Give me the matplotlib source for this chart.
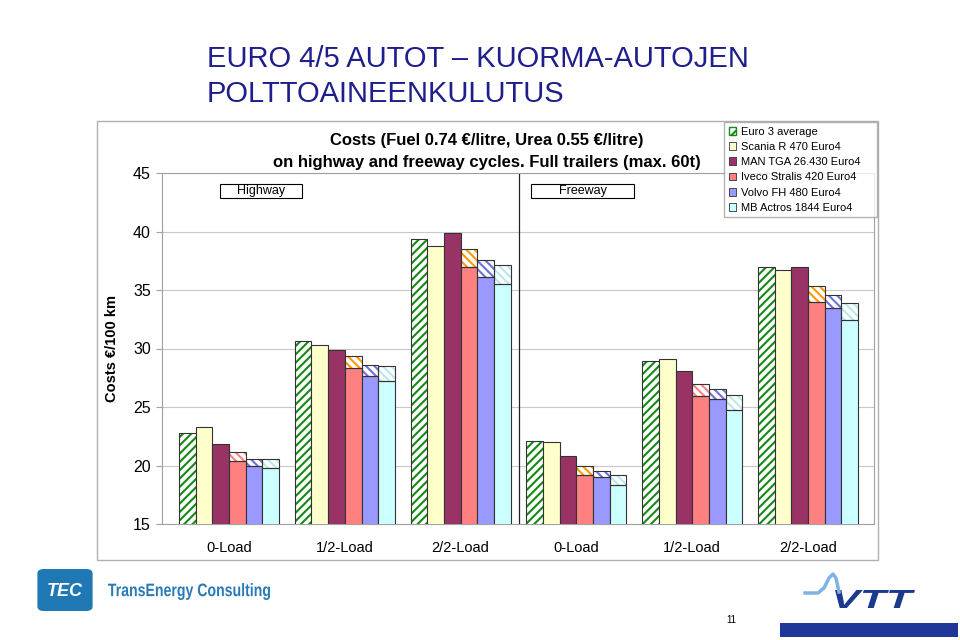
import matplotlib
matplotlib.use('Agg')
import matplotlib.pyplot as plt
import numpy as np
from matplotlib.patches import Patch, Rectangle, FancyBboxPatch, PathPatch
from matplotlib.textpath import TextPath
from matplotlib.font_manager import FontProperties
from matplotlib.transforms import Affine2D

plt.rcParams['font.family'] = ['Liberation Sans', 'DejaVu Sans']
plt.rcParams['hatch.linewidth'] = 1.5

# values (Costs EUR/100 km)
categories = ['0-Load', '1/2-Load', '2/2-Load', '0-Load', '1/2-Load', '2/2-Load']
labels = ['Euro 3 average', 'Scania R 470 Euro4', 'MAN TGA 26.430 Euro4',
          'Iveco Stralis 420 Euro4', 'Volvo FH 480 Euro4', 'MB Actros 1844 Euro4']
euro3 = [22.75, 30.6, 39.4, 22.1, 28.95, 36.95]
scania = [23.25, 30.3, 38.8, 22.0, 29.1, 36.75]
man = [21.85, 29.85, 39.9, 20.8, 28.1, 36.95]
iveco_fuel = [20.35, 28.3, 37.0, 19.2, 25.95, 33.95]
iveco_urea = [0.8, 1.05, 1.5, 0.75, 1.0, 1.35]
volvo_fuel = [19.95, 27.65, 36.15, 19.0, 25.65, 33.45]
volvo_urea = [0.6, 0.95, 1.4, 0.5, 0.85, 1.15]
mb_fuel = [19.75, 27.25, 35.55, 18.3, 24.75, 32.45]
mb_urea = [0.8, 1.25, 1.55, 0.9, 1.3, 1.45]
yticks = [15, 20, 25, 30, 35, 40, 45]

green = '#138a13'
cols = ['white', '#ffffcc', '#993366', '#ff8080', '#9999ff', '#ccffff']
iveco_hatch = ['#ff8080', '#ff9900', '#ff9900', '#ff9900', '#ff8080', '#ff9900']
volvo_hatch = '#7070dd'
mb_hatch = '#b8eaea'
edge = '#333333'
fwd = '////'
back = '\\\\\\\\'

W, H = 960, 640
fig = plt.figure(figsize=(9.6, 6.4), dpi=100)
ax = fig.add_axes([162/W, 1-524/H, (874-162)/W, (524-173)/H])

x = np.arange(len(categories))
w = 0.144


def hbar(xx, h, bottom, face, hcol, hatch):
    ax.bar(xx, h, w, bottom=bottom, color=face, edgecolor=hcol, hatch=hatch, linewidth=0, zorder=2)
    ax.bar(xx, h, w, bottom=bottom, fill=False, edgecolor=edge, linewidth=0.8, zorder=3)


off = (np.arange(6) - 2.5) * w
hbar(x + off[0], euro3, 0, 'white', green, fwd)
ax.bar(x + off[1], scania, w, color=cols[1], edgecolor=edge, linewidth=0.8, zorder=3)
ax.bar(x + off[2], man, w, color=cols[2], edgecolor=edge, linewidth=0.8, zorder=3)
ax.bar(x + off[3], iveco_fuel, w, color=cols[3], edgecolor=edge, linewidth=0.8, zorder=3)
for i in range(len(x)):
    hbar(x[i] + off[3], iveco_urea[i], iveco_fuel[i], 'white', iveco_hatch[i], back)
ax.bar(x + off[4], volvo_fuel, w, color=cols[4], edgecolor=edge, linewidth=0.8, zorder=3)
hbar(x + off[4], volvo_urea, volvo_fuel, 'white', volvo_hatch, back)
ax.bar(x + off[5], mb_fuel, w, color=cols[5], edgecolor=edge, linewidth=0.8, zorder=3)
hbar(x + off[5], mb_urea, mb_fuel, 'white', mb_hatch, back)

ax.set_xlim(-0.579, 5.57)
ax.set_ylim(15, 45)
ax.set_yticks(yticks)
ax.set_xticks(x)
ax.set_xticklabels(categories)
ax.yaxis.grid(True, color='#c8c8c8', lw=0.8)
ax.set_axisbelow(True)
for s in ax.spines.values():
    s.set_color('#a0a0a0')
ax.tick_params(axis='y', length=4, color='#a0a0a0', labelsize=11.5, pad=4)
ax.tick_params(axis='x', length=0, labelsize=10.5, pad=12)
ax.set_ylabel('Costs €/100 km', fontsize=10.5, fontweight='bold', labelpad=10)
ax.axvline(2.5, color='#222222', lw=0.9, zorder=1)

# legend
handles = [Patch(facecolor='white', edgecolor=green, hatch='///')]
handles += [Patch(facecolor=c, edgecolor=edge, lw=0.6) for c in cols[1:]]
fig.legend(handles, labels, loc='upper left',
           bbox_to_anchor=(724/W, 1-218/H, (877-724)/W, (218-122)/H),
           bbox_transform=fig.transFigure, mode='expand', frameon=True, fancybox=False,
           edgecolor='#a0a0a0', fontsize=8, handlelength=0.7, handleheight=0.7,
           handletextpad=0.4, labelspacing=0.47, borderpad=0.42, borderaxespad=0)

# outer chart box
fig.add_artist(Rectangle((97/W, 1-560/H), (878-97)/W, (560-121)/H, transform=fig.transFigure,
                         fill=False, ec='#b0b0b0', lw=1, zorder=0))

# titles
navy = '#1e1e8c'
fig.text(207/W, 1-67/H, 'EURO 4/5 AUTOT – KUORMA-AUTOJEN', fontsize=21, color=navy, va='baseline')
fig.text(207/W, 1-102/H, 'POLTTOAINEENKULUTUS', fontsize=21, color=navy, va='baseline')
fig.text(487/W, 1-141/H, 'Costs (Fuel 0.74 €/litre, Urea 0.55 €/litre)', fontsize=12,
         fontweight='bold', ha='center', va='center')
fig.text(487/W, 1-162/H, 'on highway and freeway cycles. Full trailers (max. 60t)', fontsize=12,
         fontweight='bold', ha='center', va='center')

# Highway / Freeway boxes
for x0, x1, t in [(220, 302, 'Highway'), (531, 634, 'Freeway')]:
    fig.add_artist(Rectangle((x0/W, 1-198/H), (x1-x0)/W, 14/H, transform=fig.transFigure,
                             fill=False, ec='black', lw=0.8))
    fig.text((x0+x1)/2/W, 1-191/H, t, fontsize=9, ha='center', va='center')

# TEC logo
fig.add_artist(FancyBboxPatch((40/W, 1-609/H), 50/W, 38/H,
                              boxstyle='round,pad=0.002,rounding_size=0.006',
                              transform=fig.transFigure, color='#1f78b4'))
fig.text(65/W, 1-591/H, 'TEC', fontsize=13, color='white', fontweight='bold', style='italic',
         ha='center', va='center')
tp2 = TextPath((0, 0), 'TransEnergy Consulting', size=1,
               prop=FontProperties(family='Liberation Sans', weight='bold'))
e2 = tp2.get_extents()
tr2 = Affine2D().translate(-e2.x0, -e2.y0).scale((162/W)/e2.width, (17/H)/e2.height)
tr2 = tr2.translate(108/W, 1-600/H) + fig.transFigure
fig.add_artist(PathPatch(tp2, transform=tr2, color='#2a7ab8', lw=0))

# VTT logo
tp = TextPath((0, 0), 'VTT', size=1, prop=FontProperties(family='Liberation Sans', weight='bold', style='italic'))
ext = tp.get_extents()
sx = (80/W)/ext.width
sy = (18/H)/ext.height
tr = Affine2D().translate(-ext.x0, -ext.y0).scale(sx, sy).translate(835/W, 1-608/H) + fig.transFigure
fig.add_artist(PathPatch(tp, transform=tr, color='#1b3a8c', lw=0))
wave_x = np.array([805, 818, 824, 829, 833, 836, 839])
wave_y = np.array([593, 593, 588, 578, 574, 578, 592])
fig.add_artist(plt.Line2D(wave_x/W, 1-wave_y/H, transform=fig.transFigure, color='#7fb2e5', lw=2.5))
fig.add_artist(Rectangle((780/W, 1-637/H), 178/W, 14/H, transform=fig.transFigure,
                         color='#1e3799', lw=0))
fig.text(731/W, 1-620/H, '11', fontsize=7, ha='center', va='center')

fig.savefig('out.png', dpi=100)
